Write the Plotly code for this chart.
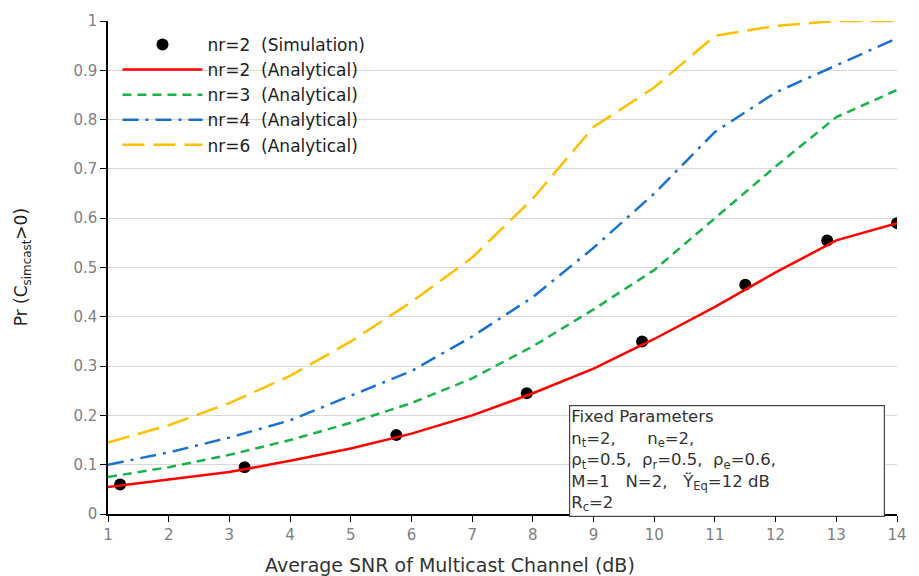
import plotly.graph_objects as go

snr = [1, 2, 3, 4, 5, 6, 7, 8, 9, 10, 11, 12, 13, 14]
nr2_ana = [0.055, 0.07, 0.085, 0.108, 0.133, 0.163, 0.2, 0.245, 0.295, 0.355, 0.42, 0.49, 0.555, 0.59]
nr3_ana = [0.075, 0.095, 0.12, 0.15, 0.185, 0.225, 0.275, 0.34, 0.415, 0.495, 0.6, 0.705, 0.805, 0.86]
nr4_ana = [0.1, 0.125, 0.155, 0.19, 0.24, 0.29, 0.36, 0.44, 0.54, 0.65, 0.775, 0.855, 0.91, 0.965]
nr6_ana = [0.145, 0.18, 0.225, 0.28, 0.35, 0.43, 0.52, 0.64, 0.785, 0.865, 0.97, 0.99, 1.0, 1.0]

sim_snr = [1.2, 3.25, 5.75, 7.9, 9.8, 11.5, 12.85, 14.0]
sim_nr2 = [0.06, 0.095, 0.16, 0.245, 0.35, 0.465, 0.555, 0.59]

x_ticks = list(range(1, 15))
y_ticks = [0, 0.1, 0.2, 0.3, 0.4, 0.5, 0.6, 0.7, 0.8, 0.9, 1]
y_labels = ["0", "0.1", "0.2", "0.3", "0.4", "0.5", "0.6", "0.7", "0.8", "0.9", "1"]

S = "\u00a0\u00a0"
FONT = "DejaVu Sans, Liberation Sans, Arial, sans-serif"

fig = go.Figure()
fig.add_trace(go.Scatter(x=sim_snr, y=sim_nr2, mode="markers", name="nr=2" + S + "(Simulation)",
                         marker=dict(color="black", size=12, symbol="circle")))
fig.add_trace(go.Scatter(x=snr, y=nr2_ana, mode="lines", name="nr=2" + S + "(Analytical)",
                         line=dict(color="#ff0000", width=2.5)))
fig.add_trace(go.Scatter(x=snr, y=nr3_ana, mode="lines", name="nr=3" + S + "(Analytical)",
                         line=dict(color="#1ab34a", width=2.5, dash="9px,6px")))
fig.add_trace(go.Scatter(x=snr, y=nr4_ana, mode="lines", name="nr=4" + S + "(Analytical)",
                         line=dict(color="#1a72d0", width=2.5, dash="16px,7px,3px,7px")))
fig.add_trace(go.Scatter(x=snr, y=nr6_ana, mode="lines", name="nr=6" + S + "(Analytical)",
                         line=dict(color="#ffc000", width=2.5, dash="22px,9px")))

fig.update_layout(
    width=919, height=576,
    margin=dict(l=108, r=14, t=16, b=62),
    plot_bgcolor="white", paper_bgcolor="white",
    font=dict(family=FONT, size=15, color="#222"),
    showlegend=True,
    legend=dict(x=0.012, y=0.988, xanchor="left", yanchor="top", bgcolor="rgba(0,0,0,0)",
                font=dict(size=17, color="#222"), tracegroupgap=0, itemwidth=80),
    xaxis=dict(range=[1, 14], tickvals=x_ticks, showgrid=False, showline=True, linecolor="black",
               linewidth=1.5, ticks="outside", tickcolor="black", ticklen=6,
               tickfont=dict(size=15, color="#808080"), zeroline=False),
    yaxis=dict(range=[0, 1], tickvals=y_ticks, ticktext=y_labels, showgrid=True, gridcolor="#d9d9d9",
               showline=True, linecolor="black", linewidth=1.5, ticks="outside", tickcolor="black",
               ticklen=6, tickfont=dict(size=15, color="#808080"), zeroline=False),
)

fig.add_annotation(xref="paper", yref="paper", x=(453 - 108) / 797, y=-0.078, xanchor="center",
                   yanchor="top", showarrow=False, text="Average SNR of Multicast Channel (dB)",
                   font=dict(size=19, color="#333"))
fig.add_annotation(xref="paper", yref="paper", x=-0.108, y=0.5, xanchor="center", yanchor="middle",
                   showarrow=False, textangle=-90,
                   text="Pr (C<sub>simcast</sub>>0)", font=dict(size=17, color="#222"))

box_text = ("Fixed Parameters<br>"
            "n<sub>t</sub>=2,\u00a0\u00a0\u00a0\u00a0\u00a0\u00a0n<sub>e</sub>=2,<br>"
            "ρ<sub>t</sub>=0.5,\u00a0\u00a0ρ<sub>r</sub>=0.5,\u00a0\u00a0ρ<sub>e</sub>=0.6,<br>"
            "M=1\u00a0\u00a0\u00a0N=2,\u00a0\u00a0\u00a0Ÿ<sub>Eq</sub>=12 dB<br>"
            "R<sub>c</sub>=2")
fig.add_annotation(xref="paper", yref="paper", x=(574 - 108) / 797, y=(514 - 404) / 498,
                   xanchor="left", yanchor="top", showarrow=False, align="left",
                   text=box_text, font=dict(size=16.5, color="#333"),
                   bordercolor="#444", borderwidth=1.2, borderpad=1, bgcolor="white",
                   width=312)

fig.write_html("out.html")
